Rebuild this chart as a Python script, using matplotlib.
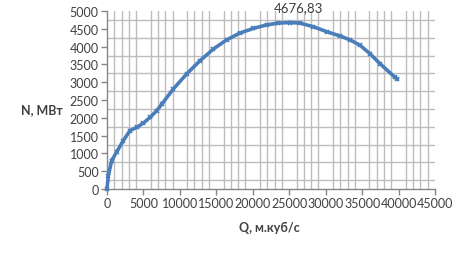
import numpy as np
from matplotlib import pyplot as plt
from matplotlib.ticker import MultipleLocator

# расход воды, м3/с и мощность, МВт
q = [0, 180, 640, 1330, 2240, 3150, 4070, 4980, 5900, 6820, 7500, 9100,
     10920, 12740, 14580, 16410, 18240, 20070, 21900, 23500, 25100, 26470,
     28300, 30130, 31960, 33330, 34700, 36080, 37450, 39500, 39800]
n = [0, 370, 800, 1040, 1360, 1640, 1730, 1850, 2010, 2200, 2380, 2810,
     3230, 3600, 3930, 4190, 4380, 4510, 4610, 4660, 4676.83, 4660,
     4560, 4420, 4300, 4190, 4040, 3800, 3520, 3140, 3090]
peak_label = "4676,83"

plt.rcParams['font.family'] = ['Lato', 'DejaVu Sans']

fig = plt.figure(figsize=(4.61, 2.55), dpi=100)
ax = fig.add_axes([107/461, 1 - 190/255, 328/461, 178/255])

ax.set_xlim(0, 45000)
ax.set_ylim(0, 5000)
ax.xaxis.set_major_locator(MultipleLocator(5000))
ax.yaxis.set_major_locator(MultipleLocator(500))

# сетка только на промежуточных значениях
for x in range(1000, 45000, 1000):
    if x % 5000:
        ax.axvline(x, color='#bdbdbd', lw=1, zorder=0)
for y in range(250, 5000, 500):
    ax.axhline(y, color='#bdbdbd', lw=1, zorder=0)

ax.plot(q, n, color='#4a7ebb', lw=2.6, marker='x', ms=3, mew=1.2,
        clip_on=False, zorder=3)

i = int(np.argmax(n))
ax.annotate(peak_label, (q[i], n[i]), xytext=(6, 7), textcoords='offset points',
            ha='center', va='bottom', fontsize=9.5, color='#404040',
            annotation_clip=False)

for s in ['top', 'right']:
    ax.spines[s].set_visible(False)
for s in ['left', 'bottom']:
    ax.spines[s].set_color('#868686')
    ax.spines[s].set_linewidth(1)
ax.tick_params(axis='both', colors='#868686', labelcolor='#404040',
               labelsize=9, length=4, width=1, pad=2)

fig.text(42/461, 1 - 110/255, "N, МВт", ha='center', va='center',
         fontsize=9, fontweight='bold', color='#404040')
fig.text(269/461, 1 - 228/255, "Q, м.куб/с", ha='center', va='center',
         fontsize=9, fontweight='bold', color='#404040')

fig.savefig('out.png', dpi=100)
